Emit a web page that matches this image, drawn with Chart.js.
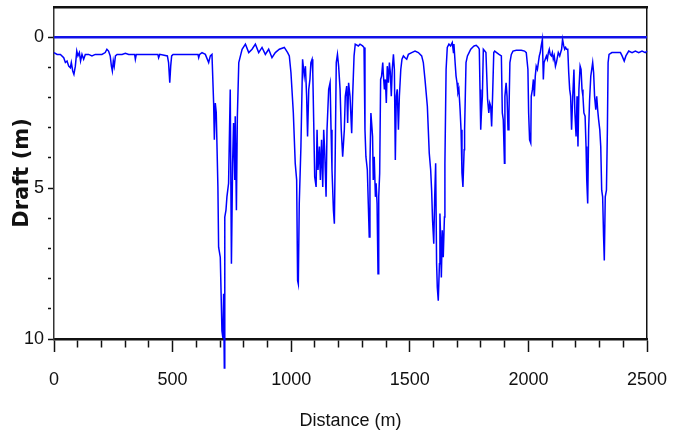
<!DOCTYPE html>
<html>
<head>
<meta charset="utf-8">
<script src="https://cdn.jsdelivr.net/npm/chart.js@4/dist/chart.umd.min.js"></script>
<style>
html,body{margin:0;padding:0;background:#fff;}
#wrap{width:674px;height:439px;position:relative;}
</style>
</head>
<body>
<div id="wrap"><canvas id="c" width="674" height="439"></canvas></div>
<script>
// Distance along track (m)
const distance = [0,13,27,41,48,55,62,69,73,79,84,90,96,101,107,112,118,125,132,146,160,174,202,216,223,230,237,242,246,250,254,259,266,287,301,315,
340,343,347,396,438,441,446,478,483,488,492,496,502,565,607,610,614,
624,638,652,659,666,673,676,680,684,691,694,701,708,712,715,718,720,725,729,736,743,748,753,757,762,764,769,773,779,786,793,807,821,835,849,863,877,891,905,919,933,
950,971,985,992,999,1009,1017,1023,1027,1030,1034,1041,1048,1055,1060,1065,1069,1074,1079,1083,1088,1091,1095,1099,1105,1109,1113,1119,1123,1128,1133,1137,1141,1147,1151,1158,1164,1168,1172,1178,1182,1186,1190,1195,1200,1206,1211,1217,1224,1228,1234,1238,1242,1248,
1255,1259,1265,1270,1283,1290,1301,1307,1311,1315,1321,1325,1329,1332,1336,1339,1343,1346,1350,1355,1358,1362,1366,1369,1373,1377,1381,1386,1388,1393,1397,1401,1405,1410,1414,1418,1422,1426,1431,1435,1439,1443,1447,1452,1456,1462,1467,1473,1480,1487,1494,1508,1522,1536,1550,1557,1564,
1574,1578,1582,1588,1592,1596,1601,1605,1609,1613,1616,1620,1625,1627,1630,1633,1637,1641,1646,1648,1653,1658,1665,1672,1679,1684,1686,1691,1695,1699,1703,1707,1712,1716,1720,1724,1729,1731,1734,1737,1743,1750,1757,1764,1771,1780,1789,1793,1796,1799,1802,1806,1810,1816,1821,1824,1828,1833,1837,1841,1845,1849,1854,1858,1866,1876,
1886,1890,1894,1899,1901,1906,1910,1914,1918,1922,1928,1935,1949,1970,1984,1991,1998,2001,2005,2010,2012,2017,2021,2025,2029,2033,2038,2042,2046,2050,2054,2059,2063,2066,2071,2076,2080,2084,2088,2092,2097,2101,2105,2109,2114,2118,2122,2126,2132,2136,2140,2144,2149,2153,2157,2161,2166,2170,2174,2178,2182,2187,
2192,2196,2201,2205,2209,2213,2218,2222,2226,2230,2234,2239,2243,2246,2250,2254,2258,2263,2267,2271,2275,2279,2284,2288,2292,2296,2301,2305,2309,2313,2317,2320,2324,2329,2333,2336,2340,2352,2374,2388,2395,2404,2411,2423,2437,2451,2465,2479,2493,2500];
// Measured draft (m)
const draft = [0.51,0.57,0.57,0.68,0.84,0.79,0.96,1.01,0.84,1.12,1.23,0.96,0.46,0.62,0.51,0.79,0.57,0.73,0.57,0.57,0.62,0.57,0.57,0.51,0.40,0.46,0.62,0.96,1.12,0.79,0.96,0.62,0.57,0.57,0.53,0.57,
0.57,0.73,0.57,0.57,0.57,0.68,0.57,0.62,0.84,1.51,0.96,0.62,0.57,0.57,0.57,0.68,0.57,
0.51,0.57,0.84,0.62,0.57,2.18,3.40,2.18,2.50,4.96,6.96,7.29,9.73,9.96,8.50,10.96,5.96,5.73,5.29,4.84,1.73,7.51,4.18,2.84,4.73,2.62,5.73,2.62,0.84,0.62,0.40,0.23,0.51,0.40,0.23,0.51,0.34,0.57,0.40,0.68,0.51,
0.40,0.34,0.51,0.62,1.18,2.51,4.18,4.73,8.07,8.18,5.51,3.62,0.73,1.29,0.96,1.96,3.29,1.73,1.40,0.84,0.73,1.18,2.84,4.62,4.96,3.07,4.40,3.62,4.73,3.40,4.96,3.07,3.73,5.29,3.07,1.73,1.51,3.07,4.40,5.73,6.18,3.62,0.84,0.57,0.96,1.73,3.07,3.96,3.07,1.96,1.62,2.84,1.51,1.96,
3.18,1.96,0.62,0.23,0.29,0.23,0.29,0.34,3.07,3.96,4.40,5.51,6.62,4.18,2.51,2.84,3.29,4.73,3.96,5.29,4.84,5.51,7.84,5.29,4.51,1.40,1.29,0.84,1.18,1.73,1.40,2.18,0.96,1.51,0.84,1.18,1.96,1.07,0.57,1.07,4.07,1.96,1.73,3.07,1.96,1.07,0.73,0.62,0.68,0.73,0.57,0.51,0.46,0.51,0.62,0.84,1.40,
2.29,3.07,3.84,4.40,5.07,6.07,6.84,5.29,4.18,7.51,8.29,8.73,7.51,5.84,6.62,7.96,6.40,7.29,5.96,4.18,1.07,0.34,0.23,0.29,0.18,0.51,0.23,0.84,1.29,1.51,1.84,1.73,2.40,3.07,4.51,4.96,3.73,3.07,1.96,0.84,0.62,0.51,0.40,0.34,0.29,0.27,0.34,0.40,1.73,3.07,2.51,1.96,0.40,0.46,0.51,1.18,2.07,2.51,2.18,2.29,2.96,1.96,0.51,0.46,0.51,0.57,
0.62,2.51,2.73,4.18,1.96,1.51,1.96,3.07,2.51,0.84,0.57,0.46,0.43,0.43,0.46,0.51,1.07,2.51,3.40,3.51,1.96,1.73,1.40,1.96,1.29,0.96,1.07,0.84,0.62,0.51,0.29,0.07,1.40,0.84,0.73,0.62,0.73,0.51,0.40,0.57,0.62,0.51,0.73,0.62,0.96,0.84,0.68,0.51,0.62,0.51,0.40,0.07,0.29,0.40,0.34,0.40,0.40,1.18,1.73,1.96,3.07,1.96,
1.07,2.51,3.29,1.96,3.62,1.73,0.96,1.07,1.73,1.96,2.51,2.62,3.62,4.73,5.51,3.07,2.07,1.29,1.07,0.84,1.18,1.96,2.40,1.96,2.40,2.73,3.07,3.62,5.07,5.29,6.62,7.40,5.29,5.07,3.07,0.84,0.57,0.51,0.51,0.51,0.62,0.79,0.62,0.46,0.51,0.46,0.51,0.46,0.51,0.46];
// Reference (waterline) level
const refDistance = [0, 2500];
const refDraft = [0, 0];
const xTickLabels = [0, 500, 1000, 1500, 2000, 2500];
const yTickLabels = [0, 5, 10];

const profile = distance.map((d, i) => ({x: d, y: draft[i]}));
const waterline = refDistance.map((d, i) => ({x: d, y: refDraft[i]}));

function noPad(s) { s.paddingTop = 0; s.paddingBottom = 0; s.paddingLeft = 0; s.paddingRight = 0; }
const tickFont = {family: '"Liberation Sans", Arial', size: 18};

new Chart(document.getElementById('c'), {
  type: 'line',
  data: {
    datasets: [
      {data: waterline, borderColor: '#1212e8', borderWidth: 2.4, pointRadius: 0, tension: 0, clip: false, xAxisID: 'x', yAxisID: 'y'},
      {data: profile, borderColor: '#0000ff', borderWidth: 1.5, pointRadius: 0, tension: 0, clip: false, xAxisID: 'x', yAxisID: 'y'}
    ]
  },
  options: {
    responsive: false,
    animation: false,
    events: [],
    layout: {padding: {top: 7, right: 27, left: 0, bottom: 0}},
    plugins: {legend: {display: false}, tooltip: {enabled: false}},
    scales: {
      x: {
        type: 'linear', position: 'bottom', min: 0, max: 2500,
        afterFit: s => { s.height = 100; noPad(s); },
        ticks: {
          stepSize: 100, autoSkip: false, maxRotation: 0, padding: 17, color: '#111',
          font: tickFont,
          callback: v => xTickLabels.includes(v) ? String(v) : ''
        },
        grid: {
          drawOnChartArea: false, drawTicks: true, tickLength: 13, tickColor: '#111', tickWidth: 1.5,
          tickBorderDash: ctx => (ctx.tick && xTickLabels.includes(ctx.tick.value)) ? [] : [7, 30]
        },
        border: {display: true, color: '#111', width: 2.5},
        title: {display: true, text: 'Distance (m)', color: '#111', padding: {top: 0, bottom: 7},
          font: {family: '"Liberation Sans", Arial', size: 18}}
      },
      y: {
        type: 'linear', position: 'left', min: -1, max: 10, reverse: true,
        afterFit: s => { s.width = 54; noPad(s); },
        ticks: {
          stepSize: 1, autoSkip: false, padding: 4, color: '#111',
          font: tickFont,
          callback: v => yTickLabels.includes(v) ? String(v) : ''
        },
        grid: {
          drawOnChartArea: false, drawTicks: true, tickLength: 6, tickWidth: 1.5,
          tickColor: ctx => (ctx.tick && ctx.tick.value < 0) ? 'rgba(0,0,0,0)' : '#111',
          tickBorderDash: ctx => (ctx.tick && yTickLabels.includes(ctx.tick.value)) ? [] : [3, 30]
        },
        border: {display: true, color: '#333', width: 1.5},
        title: {display: true, text: 'Draft (m)', color: '#111', padding: {top: 10, bottom: 0},
          font: {family: '"DejaVu Sans", Arial', size: 21, weight: 'bold'}}
      },
      xTop: {
        type: 'linear', position: 'top', min: 0, max: 2500, display: true,
        afterFit: s => { s.height = 0; noPad(s); },
        ticks: {display: false},
        grid: {drawOnChartArea: false, drawTicks: false},
        border: {display: true, color: '#111', width: 2.5}
      },
      yRight: {
        type: 'linear', position: 'right', min: -1, max: 10, display: true,
        afterFit: s => { s.width = 0; noPad(s); },
        ticks: {display: false},
        grid: {drawOnChartArea: false, drawTicks: false},
        border: {display: true, color: '#111', width: 1.5}
      }
    }
  }
});
</script>
</body>
</html>
